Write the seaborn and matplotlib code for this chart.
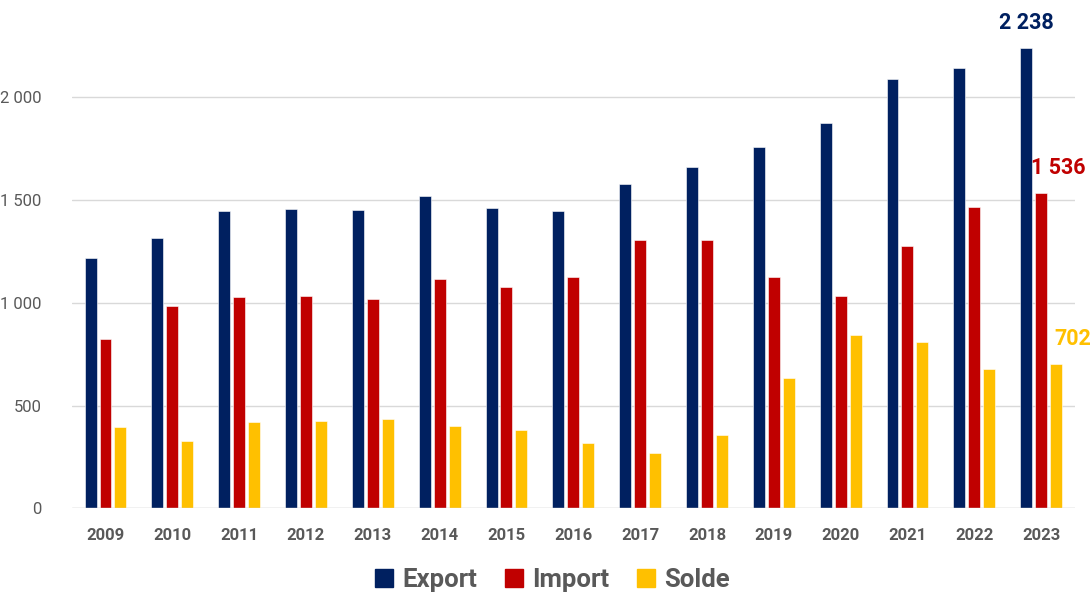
import pandas as pd
import matplotlib
matplotlib.use("Agg")
from matplotlib import pyplot as plt
from matplotlib.ticker import FuncFormatter
import seaborn as sns

years = [str(y) for y in range(2009, 2024)]
export = [1220, 1314, 1447, 1458, 1453, 1520, 1460, 1445, 1578, 1662, 1760, 1875, 2088, 2144, 2238]
imports = [822, 984, 1027, 1032, 1017, 1116, 1077, 1124, 1304, 1306, 1124, 1032, 1277, 1466, 1536]
solde = [398, 327, 418, 423, 435, 402, 381, 318, 271, 355, 634, 842, 808, 676, 702]
series = ["Export", "Import", "Solde"]
colors = ["#002060", "#C00000", "#FFC000"]

df = pd.DataFrame({"Année": years, "Export": export, "Import": imports, "Solde": solde})
df = df.melt(id_vars="Année", var_name="Série", value_name="Valeur")

sns.set_style("white")
plt.rcParams["font.family"] = ["Roboto", "DejaVu Sans"]

fig = plt.figure(figsize=(10.92, 5.92), dpi=100)
ax = fig.add_axes([0.066, 0.1414, 0.918, 0.833])

sns.barplot(data=df, x="Année", y="Valeur", hue="Série", hue_order=series,
            palette=colors, saturation=1, width=0.67, gap=0.2,
            edgecolor="white", linewidth=0.4, ax=ax, legend=False)

ax.set_xlim(-0.5, len(years) - 0.5)
ax.set_ylim(0, 2400)
ax.set_yticks([0, 500, 1000, 1500, 2000])
ax.yaxis.set_major_formatter(FuncFormatter(lambda v, p: f"{int(v):,}".replace(",", " ")))
ax.grid(axis="y", color="#D9D9D9", linewidth=1)
ax.set_axisbelow(True)
for s in ["top", "right", "left", "bottom"]:
    ax.spines[s].set_visible(False)
ax.axhline(0, color="#D9D9D9", linewidth=1, zorder=1)
ax.tick_params(axis="y", length=0, labelsize=12, labelcolor="#595959", pad=22)
ax.tick_params(axis="x", length=0, labelsize=12, labelcolor="#595959", pad=14)
for lab in ax.get_xticklabels():
    lab.set_fontweight("bold")
ax.set_xlabel("")
ax.set_ylabel("")

# labels on the last year
last = len(years) - 1
vals = [export[last], imports[last], solde[last]]
for i, (v, c) in enumerate(zip(vals, colors)):
    xpos = last + (i - 1) * 0.223
    dx = 0 if i == 0 else 12
    ax.annotate(f"{v:,}".replace(",", " "), xy=(xpos, v), xytext=(dx, 18),
                textcoords="offset points", ha="center", va="center",
                fontsize=15.5, fontweight="bold", color=c, clip_on=False)

handles = [plt.Rectangle((0, 0), 1, 1, color=c) for c in colors]
fig.legend(handles, series, loc="center", bbox_to_anchor=(0.506, 0.02),
           ncol=3, frameon=False, handlelength=0.7, handleheight=0.7,
           handletextpad=0.35, columnspacing=1.1,
           prop={"size": 18.5, "weight": "bold"}, labelcolor="#595959")

fig.savefig("out.png", dpi=100)
